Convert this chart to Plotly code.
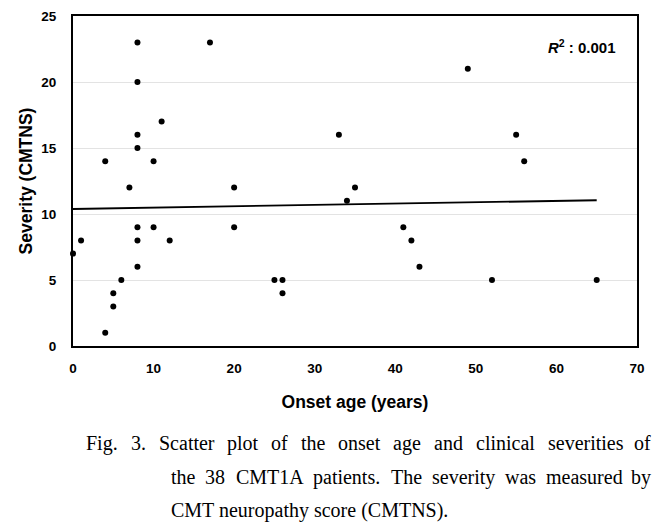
import plotly.graph_objects as go

# ---- data ----
onset_age = [8, 17, 8, 11, 8, 8, 4, 10, 7, 8, 10, 1, 8, 12, 0, 8, 6, 5, 5, 4,
             33, 20, 35, 34, 20, 25, 26, 26,
             49, 55, 56, 41, 42, 43, 52, 65]
severity = [23, 23, 20, 17, 16, 15, 14, 14, 12, 9, 9, 8, 8, 8, 7, 6, 5, 4, 3, 1,
            16, 12, 12, 11, 9, 5, 5, 4,
            21, 16, 14, 9, 8, 6, 5, 5]
trend_x = [0, 65]
trend_y = [10.38, 11.04]
x_ticks = [0, 10, 20, 30, 40, 50, 60, 70]
y_ticks = [0, 5, 10, 15, 20, 25]
r2_text = "0.001"

caption_lines = [
    "Fig. 3. Scatter plot of the onset age and clinical severities of",
    "the 38 CMT1A patients. The severity was measured by",
    "CMT neuropathy score (CMTNS).",
]

# ---- layout geometry (page pixels; page body has an 8px margin) ----
OFF = 8
W, H = 665 - OFF, 525 - OFF
L, R, T, B = 73 - OFF, 637 - OFF, 16 - OFF, 346 - OFF

def px_x(p):
    return (p - OFF - L) / (R - L)

def px_y(p):
    return (B - (p - OFF)) / (B - T)

fig = go.Figure()
fig.add_trace(go.Scatter(x=trend_x, y=trend_y, mode="lines",
                         line=dict(color="black", width=1.8),
                         hoverinfo="skip", showlegend=False))
fig.add_trace(go.Scatter(x=onset_age, y=severity, mode="markers",
                         marker=dict(color="black", size=6),
                         cliponaxis=False, showlegend=False))

# caption with justified lines (word-by-word placement using Times metrics)
tw = {' ': 250, '.': 250, '(': 333, ')': 333, '0': 500, '1': 500, '3': 500, '8': 500,
      'A': 722, 'C': 667, 'F': 556, 'M': 889, 'N': 722, 'S': 556, 'T': 611,
      'a': 444, 'b': 500, 'c': 444, 'd': 500, 'e': 444, 'f': 333, 'g': 500, 'h': 500,
      'i': 278, 'l': 278, 'm': 778, 'n': 500, 'o': 500, 'p': 500, 'r': 333, 's': 389,
      't': 278, 'u': 500, 'v': 500, 'w': 722, 'y': 500}
FS = 20
cap_font = dict(family="Liberation Serif, Times New Roman, serif", size=FS, color="black")

def wwidth(w):
    return sum(tw.get(c, 500) for c in w) * FS / 1000.0

annotations = []
line_specs = [(caption_lines[0], 85, 652, 443, True),
              (caption_lines[1], 170, 652, 477, True),
              (caption_lines[2], 170, 652, 510, False)]
for text, x0, x1, yc, justify in line_specs:
    if not justify:
        annotations.append(dict(text=text, x=px_x(x0), y=px_y(yc), xref="paper", yref="paper",
                                xanchor="left", yanchor="middle", showarrow=False,
                                font=cap_font, borderpad=0))
        continue
    words = text.split(" ")
    widths = [wwidth(w) for w in words]
    gap = (x1 - x0 - sum(widths)) / (len(words) - 1)
    xpos = x0
    for i, w in enumerate(words):
        if i == len(words) - 1:
            annotations.append(dict(text=w, x=px_x(x1), y=px_y(yc), xref="paper", yref="paper",
                                    xanchor="right", yanchor="middle", showarrow=False,
                                    font=cap_font, borderpad=0))
        else:
            annotations.append(dict(text=w, x=px_x(xpos), y=px_y(yc), xref="paper", yref="paper",
                                    xanchor="left", yanchor="middle", showarrow=False,
                                    font=cap_font, borderpad=0))
        xpos += widths[i] + gap

annotations.append(dict(text="<b><i>R</i><sup>2</sup> : " + r2_text + "</b>",
                        x=px_x(618), y=px_y(46), xref="paper", yref="paper",
                        xanchor="right", yanchor="middle", showarrow=False,
                        font=dict(family="Liberation Sans, Arial, sans-serif", size=15, color="black")))

tick_font = dict(family="Liberation Sans, Arial, sans-serif", size=13.5, color="black")
title_font = dict(family="Liberation Sans, Arial, sans-serif", size=17.5, color="black")

fig.update_layout(
    width=W, height=H,
    margin=dict(l=L, r=W - R, t=T, b=H - B, autoexpand=False),
    paper_bgcolor="white", plot_bgcolor="white",
    showlegend=False,
    annotations=annotations,
    xaxis=dict(range=[0, 70], tickvals=x_ticks, ticktext=["<b>%d</b>" % v for v in x_ticks],
               tickfont=tick_font, showgrid=False, zeroline=False,
               showline=True, mirror=True, linecolor="black", linewidth=2,
               ticks="outside", ticklen=9, tickcolor="rgba(0,0,0,0)",
               title=dict(text="<b>Onset age (years)</b>", font=title_font, standoff=21),
               automargin=False, fixedrange=True),
    yaxis=dict(range=[0, 25], tickvals=y_ticks, ticktext=["<b>%d</b>" % v for v in y_ticks],
               tickfont=tick_font, showgrid=True, gridcolor="#e3e3e3", gridwidth=1,
               zeroline=False,
               showline=True, mirror=True, linecolor="black", linewidth=2,
               ticks="outside", ticklen=12, tickcolor="rgba(0,0,0,0)",
               title=dict(text="<b>Severity (CMTNS)</b>", font=title_font, standoff=4),
               automargin=False, fixedrange=True),
)

fig.write_html("out.html")
